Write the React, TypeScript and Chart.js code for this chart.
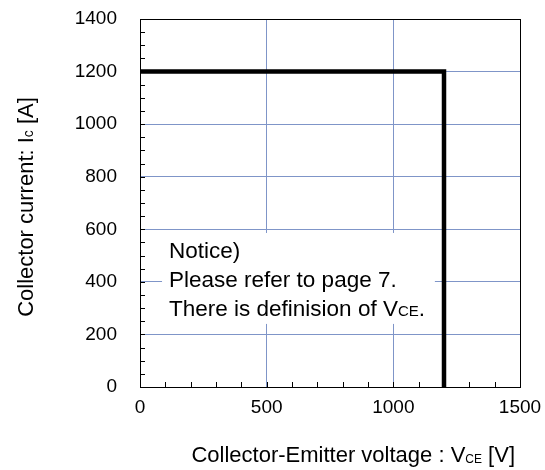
import { useEffect, useRef } from 'react';
import { Chart, registerables } from 'chart.js';

Chart.register(...registerables);

// ---- data ----
const voltage = [0, 1200, 1200];
const current = [1200, 1200, 0];
const xTickValues = [0, 500, 1000, 1500];
const yTickValues = [0, 200, 400, 600, 800, 1000, 1200, 1400];
const xMinorTicks = [100, 200, 300, 400, 500, 600, 700, 800, 900, 1000, 1100, 1200, 1300, 1400];
const yMinorTicks = [50, 100, 150, 200, 250, 300, 350, 400, 450, 500, 550, 600, 650, 700, 750, 800, 850, 900, 950, 1000, 1050, 1100, 1150, 1200, 1250, 1300, 1350];
const noticeLines = ['Notice)', 'Please refer to page 7.', 'There is definision of V'];
const noticeSub = 'CE';
const noticeTail = '.';
const xTitle = ['Collector-Emitter voltage : V', 'CE', ' [V]'];
const yTitle = ['Collector current: I', 'c', ' [A]'];
// notice box extent in data units
const noticeBoxX = [87, 1164];
const noticeBoxY = [240, 586];

const FONT = '"Liberation Sans", Arial, Helvetica, sans-serif';
const GRID = '#7f95c8';

type Part = { t: string; size: number; dy: number };

function drawParts(ctx: CanvasRenderingContext2D, parts: Part[], x: number, y: number) {
  let cx = x;
  for (const p of parts) {
    ctx.font = `${p.size}px ${FONT}`;
    ctx.fillText(p.t, cx, y + p.dy);
    cx += ctx.measureText(p.t).width;
  }
}
function partsWidth(ctx: CanvasRenderingContext2D, parts: Part[]) {
  let w = 0;
  for (const p of parts) {
    ctx.font = `${p.size}px ${FONT}`;
    w += ctx.measureText(p.t).width;
  }
  return w;
}

const decor = {
  id: 'decor',
  beforeDatasetsDraw(chart: any) {
    const { ctx, scales } = chart;
    const x = scales.x, y = scales.y;
    const l = x.getPixelForValue(noticeBoxX[0]);
    const r = x.getPixelForValue(noticeBoxX[1]);
    const t = y.getPixelForValue(noticeBoxY[1]);
    const b = y.getPixelForValue(noticeBoxY[0]);
    ctx.save();
    ctx.fillStyle = '#ffffff';
    ctx.fillRect(l, t, r - l, b - t);
    ctx.fillStyle = '#000000';
    ctx.textAlign = 'left';
    ctx.textBaseline = 'alphabetic';
    const tx = l + 7;
    ctx.font = `22.5px ${FONT}`;
    ctx.fillText(noticeLines[0], tx, t + 25);
    ctx.fillText(noticeLines[1], tx, t + 54);
    drawParts(ctx, [
      { t: noticeLines[2], size: 22.5, dy: 0 },
      { t: noticeSub, size: 15, dy: 0 },
      { t: noticeTail, size: 22.5, dy: 0 },
    ], tx, t + 83);
    ctx.restore();
  },
  afterDraw(chart: any) {
    const { ctx, scales, chartArea } = chart;
    const x = scales.x, y = scales.y;
    ctx.save();
    // border
    ctx.strokeStyle = '#000000';
    ctx.lineWidth = 1;
    ctx.strokeRect(Math.round(chartArea.left) + 0.5, Math.round(chartArea.top) + 0.5,
      Math.round(chartArea.right - chartArea.left), Math.round(chartArea.bottom - chartArea.top));
    // minor ticks (inside)
    ctx.beginPath();
    for (const v of yMinorTicks) {
      const py = Math.round(y.getPixelForValue(v)) + 0.5;
      ctx.moveTo(chartArea.left, py);
      ctx.lineTo(chartArea.left + 5, py);
    }
    for (const v of xMinorTicks) {
      const px = Math.round(x.getPixelForValue(v)) + 0.5;
      ctx.moveTo(px, chartArea.bottom);
      ctx.lineTo(px, chartArea.bottom - 5);
    }
    ctx.stroke();
    // titles
    ctx.fillStyle = '#000000';
    ctx.textAlign = 'left';
    ctx.textBaseline = 'alphabetic';
    const xParts: Part[] = [
      { t: xTitle[0], size: 22, dy: 0 },
      { t: xTitle[1], size: 12, dy: 1 },
      { t: xTitle[2], size: 22, dy: 0 },
    ];
    const xw = partsWidth(ctx, xParts);
    drawParts(ctx, xParts, chartArea.right - 5 - xw, 462);
    const yParts: Part[] = [
      { t: yTitle[0], size: 22, dy: 0 },
      { t: yTitle[1], size: 14, dy: 0 },
      { t: yTitle[2], size: 22, dy: 0 },
    ];
    const yw = partsWidth(ctx, yParts);
    ctx.translate(33, (chartArea.top + chartArea.bottom) / 2 + 4);
    ctx.rotate(-Math.PI / 2);
    drawParts(ctx, yParts, -yw / 2, 0);
    ctx.restore();
  },
};

export default function App() {
  const ref = useRef<HTMLCanvasElement>(null);
  useEffect(() => {
    if (!ref.current) return;
    const chart = new Chart(ref.current, {
      type: 'scatter',
      data: {
        datasets: [
          {
            data: voltage.map((v, i) => ({ x: v, y: current[i] })),
            showLine: true,
            borderColor: '#000000',
            borderWidth: 4.5,
            pointRadius: 0,
            fill: false,
            tension: 0,
          },
        ],
      },
      options: {
        responsive: false,
        animation: false,
        devicePixelRatio: 1,
        layout: { padding: { top: 19, right: 25, left: 0, bottom: 0 } },
        plugins: { legend: { display: false }, tooltip: { enabled: false }, title: { display: false } },
        scales: {
          x: {
            type: 'linear',
            min: 0,
            max: 1500,
            afterBuildTicks: (s: any) => { s.ticks = xTickValues.map((v) => ({ value: v })); },
            afterFit: (s: any) => { s.height = 83; },
            grid: { color: GRID, lineWidth: 1, drawTicks: true, tickLength: 9, tickColor: 'rgba(0,0,0,0)' },
            border: { display: false },
            ticks: {
              color: '#000', font: { family: FONT, size: 19 }, padding: 0, maxRotation: 0,
              callback: (v: any) => String(v),
            },
          },
          y: {
            type: 'linear',
            min: 0,
            max: 1400,
            afterBuildTicks: (s: any) => { s.ticks = yTickValues.map((v) => ({ value: v })); },
            afterFit: (s: any) => { s.width = 140; },
            grid: { color: GRID, lineWidth: 1, drawTicks: true, tickLength: 23, tickColor: 'rgba(0,0,0,0)' },
            border: { display: false },
            ticks: {
              color: '#000', font: { family: FONT, size: 19 }, padding: 0,
              callback: (v: any) => String(v),
            },
          },
        },
      },
      plugins: [decor],
    });
    return () => chart.destroy();
  }, []);
  return (
    <div style={{ position: 'fixed', left: 0, top: 0, width: 545, height: 470, background: '#fff' }}>
      <canvas ref={ref} width={545} height={470} style={{ width: 545, height: 470 }} />
    </div>
  );
}
